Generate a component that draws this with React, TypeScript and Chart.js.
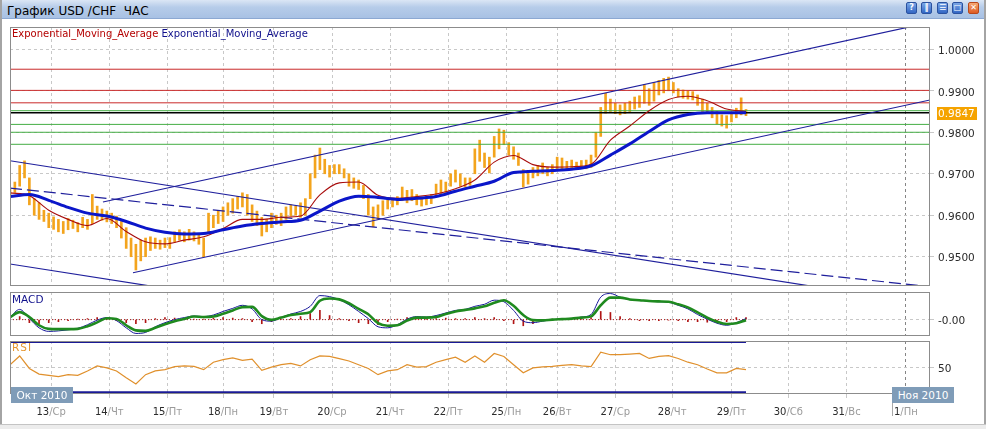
import { useEffect, useRef } from 'react';
import { Chart, registerables } from 'chart.js';

Chart.register(...registerables);

const FONT = '"DejaVu Sans", Verdana, sans-serif';

// ---------- time axis (hour units, one trading day ≈ 24 units) ----------
const X_MAX = 380;
const dayTicks = [17, 41, 65, 88, 109, 133, 157, 181, 205, 226, 250, 273.5, 298, 321.5, 345.5, 370];
const dayLabels = ['13/Ср', '14/Чт', '15/Пт', '18/Пн', '19/Вт', '20/Ср', '21/Чт', '22/Пт', '25/Пн', '26/Вт', '27/Ср', '28/Чт', '29/Пт', '30/Сб', '31/Вс', '1/Пн'];
const monthTick = 370;
const CANDLE_STEP = 2;
const EMA_STEP = 8;
const OSC_STEP = 4;

// ---------- price pane ----------
const priceMin = 0.94294;
const priceMax = 1.00538;
const priceTicks = [0.95, 0.96, 0.97, 0.98, 0.99, 1.0];
const PIP = 10000;

// candle ranges in pips (every 2 hours)
const candleLow = [
  9648, 9655, 9670, 9690, 9625, 9600, 9590, 9585, 9570, 9566,
  9560, 9556, 9565, 9568, 9560, 9570, 9566, 9580, 9590, 9588,
  9584, 9580, 9570, 9545, 9520, 9500, 9468, 9490, 9500, 9515,
  9520, 9518, 9522, 9520, 9535, 9540, 9536, 9540, 9538, 9530,
  9500, 9560, 9570, 9580, 9585, 9600, 9605, 9615, 9620, 9600,
  9585, 9575, 9550, 9560, 9570, 9578, 9575, 9590, 9598, 9600,
  9595, 9600, 9640, 9690, 9710, 9700, 9692, 9700, 9700, 9690,
  9670, 9665, 9662, 9640, 9600, 9572, 9590, 9600, 9615, 9620,
  9625, 9635, 9630, 9635, 9625, 9622, 9625, 9628, 9645, 9650,
  9655, 9670, 9680, 9670, 9668, 9672, 9700, 9730, 9715, 9702,
  9740, 9760, 9770, 9745, 9735, 9720, 9668, 9675, 9690, 9695,
  9700, 9695, 9700, 9710, 9712, 9708, 9712, 9710, 9714, 9712,
  9715, 9740, 9790, 9846, 9850, 9845, 9842, 9845, 9850, 9856,
  9860, 9870, 9865, 9875, 9890, 9895, 9900, 9895, 9885, 9882,
  9880, 9878, 9865, 9850, 9846, 9835, 9820, 9815, 9810, 9825,
  9835, 9842, 9840,
];
const candleHigh = [
  9662, 9680, 9720, 9731, 9690, 9640, 9630, 9612, 9605, 9596,
  9590, 9585, 9592, 9588, 9582, 9595, 9590, 9650, 9622, 9615,
  9610, 9605, 9598, 9585, 9570, 9545, 9530, 9540, 9545, 9548,
  9545, 9540, 9545, 9546, 9560, 9565, 9560, 9566, 9560, 9556,
  9545, 9605, 9600, 9610, 9620, 9630, 9640, 9645, 9654, 9650,
  9625, 9610, 9595, 9590, 9605, 9600, 9605, 9620, 9625, 9622,
  9630, 9640, 9700, 9745, 9762, 9735, 9720, 9722, 9722, 9712,
  9700, 9690, 9685, 9672, 9650, 9620, 9625, 9635, 9637, 9636,
  9645, 9668, 9660, 9662, 9650, 9644, 9645, 9650, 9675, 9685,
  9680, 9700, 9709, 9700, 9690, 9690, 9760, 9781, 9750, 9740,
  9790, 9808, 9805, 9775, 9765, 9750, 9710, 9705, 9715, 9720,
  9726, 9716, 9722, 9740, 9738, 9730, 9733, 9728, 9732, 9733,
  9745, 9800, 9860, 9894, 9880, 9870, 9866, 9870, 9875, 9885,
  9888, 9915, 9905, 9920, 9925, 9930, 9933, 9920, 9905, 9902,
  9900, 9898, 9890, 9880, 9870, 9860, 9850, 9842, 9840, 9848,
  9858, 9883, 9855,
];

// moving averages in pips (every 8 hours)
const emaFast = [
  9654, 9647, 9612, 9590, 9575, 9592, 9561, 9536, 9531, 9540,
  9548, 9568, 9590, 9590, 9595, 9598, 9649, 9678, 9680, 9648,
  9641, 9645, 9651, 9664, 9685, 9728, 9744, 9722, 9716, 9717,
  9723, 9781, 9815, 9852, 9879, 9887, 9876, 9856, 9850,
];
const emaSlow = [
  9645, 9650, 9636, 9619, 9605, 9598, 9585, 9569, 9559, 9555,
  9556, 9565, 9574, 9580, 9584, 9588, 9610, 9634, 9646, 9643,
  9638, 9641, 9645, 9658, 9670, 9682, 9703, 9706, 9708, 9711,
  9719, 9745, 9772, 9802, 9830, 9843, 9847, 9847, 9847,
];

const lastPrice = 0.9847;
const resistanceLevels = [0.9952, 0.9901, 0.9871];
const supportLevels = [0.9852, 0.9819, 0.98, 0.9771];

// trend lines (x in hour units, y in price)
const channelUpperX = [38.4, 380];
const channelUpperY = [0.96319, 1.00647];
const channelLowerX = [50.8, 380];
const channelLowerY = [0.94614, 0.98778];
const declineUpperX = [0, 380];
const declineUpperY = [0.97314, 0.93843];
const declineMidX = [0, 380];
const declineMidY = [0.96656, 0.94277];
const declineLowerX = [0, 62];
const declineLowerY = [0.94824, 0.94258];

// ---------- MACD pane (units of 0.0001, every 4 hours) ----------
const macdMin = -16;
const macdMax = 27;
const macdLine = [
  2.5, 10, 1, -8, -11.5, -11, -10, -8.5, -5, -0.5,
  2, -1, -8, -13.5, -12.5, -7, -3, 0, 2, 3.5,
  3, 4.5, 8, 11, 14, 10.5, 0, -1.5, 2, 5.5,
  8, 13, 23.5, 22.5, 19.5, 14.5, 8, 1, -7, -8,
  -5, 0.5, 3, 2.5, 4, 6.5, 9, 10, 13, 15,
  19, 17.5, 9, -1.5, -3, -1.5, 0, 0.5, 1, 2.5,
  5, 22, 25.5, 22, 19.5, 19, 18, 17.5, 17, 14,
  10.5, 5, 0.5, -3.5, -5.5, -3, 1,
];
const macdSignal = [
  2.3, 7.3, 2.6, -5.5, -9, -9.3, -9.3, -9, -6.5, -2.7,
  1.3, 0.7, -5.5, -10.5, -11, -8, -4.5, -1.5, 0.7, 3,
  2.5, 3, 5.7, 9, 12.2, 12.5, 3.5, -0.2, 2, 4.5,
  5.8, 7.3, 18.5, 20.7, 19.8, 16, 10.5, 5.2, -3.5, -6,
  -5.5, -1, 2, 2, 2.5, 5.5, 8, 9.5, 11, 13,
  16.5, 19, 13.5, 4.5, -0.5, -0.7, 0, 0.5, 1, 2,
  3.2, 14, 21.5, 21.5, 19.7, 19, 18.2, 17.8, 17.4, 15,
  12, 7, 2, -2, -4.2, -3.5, -0.5,
];
const macdHist = [
  2, 3, -3, -4, -3, -2, -1, 0.5, 1, 2,
  1, -1, -3, -4, -3, 1, 2, 1.5, 1, 0.5,
  0.5, 1.5, 2, 1.5, 1, -2, -4, -2, 0.5, 1,
  3, 6, 9, 4, 1, -1, -3, -4, -5, -2,
  0.5, 2, 2, 1, 1, 1.5, 1, 1, 2, 1,
  2, -1, -4, -6, -4, -1, 0.5, 0.5, 0.5, 1,
  2, 8, 7, 3, 1, -1, -1, -1, -0.5, -1,
  -2, -2, -2.5, -3, -2, 2, 2,
];

// ---------- RSI pane (every 4 hours) ----------
const rsiMin = 28.5;
const rsiMax = 71;
const rsiValues = [
  52, 59, 49, 44.5, 43.5, 42.5, 44, 43.5, 47, 51,
  49.5, 47, 41.5, 36.5, 44, 47, 48, 50.5, 51, 50.6,
  48, 54, 56, 57.5, 55.5, 56.5, 47.5, 50, 52, 53,
  51, 56, 59, 58.6, 56.8, 55, 52, 49, 44, 47,
  48, 52, 50, 50.5, 54, 56, 58, 54, 59, 54,
  61, 58.6, 52, 45.5, 49.4, 50.2, 50.6, 51.5, 52, 51,
  50.5, 62, 60, 60, 60.5, 61, 57, 58.6, 59.2, 57,
  54, 52, 48.6, 45.5, 45.5, 49, 48,
];
const rsiLevels = [70, 30];

// ---------- helpers ----------
const pts = (vals: number[], step: number, div = 1) => vals.map((v, i) => ({ x: i * step, y: v / div }));
const seg = (xs: number[], ys: number[]) => xs.map((x, i) => ({ x, y: ys[i] }));
const flat = (y: number, x0: number, x1: number) => [{ x: x0, y }, { x: x1, y }];

const lineDs = (data: any[], color: string, width: number, order: number, extra: any = {}) => ({
  type: 'line' as const,
  data,
  borderColor: color,
  borderWidth: width,
  pointRadius: 0,
  tension: 0,
  fill: false,
  clip: 0,
  order,
  ...extra,
});

function xAxis(height: number, drawTicks: boolean) {
  return {
    type: 'linear' as const,
    min: 0,
    max: X_MAX,
    offset: false,
    afterBuildTicks: (s: any) => {
      s.ticks = dayTicks.map((v) => ({ value: v }));
    },
    afterFit: (s: any) => {
      s.height = height;
      s.paddingLeft = 0;
      s.paddingRight = 0;
    },
    ticks: { display: false },
    grid: {
      offset: false,
      color: (c: any) => (c.tick && c.tick.value === monthTick ? '#858585' : '#c8c8c8'),
      lineWidth: 1,
      drawTicks,
      tickLength: 4,
    },
    border: { display: false, dash: [3, 3] },
  };
}

function yAxis(min: number, max: number, ticks: number[], fmt: (v: number) => string) {
  return {
    type: 'linear' as const,
    position: 'right' as const,
    min,
    max,
    afterBuildTicks: (s: any) => {
      s.ticks = ticks.map((v) => ({ value: v }));
    },
    afterFit: (s: any) => {
      s.width = 56;
      s.paddingTop = 0;
      s.paddingBottom = 0;
    },
    ticks: {
      callback: (v: any) => fmt(Number(v)),
      color: '#2a2a2a',
      font: { family: FONT, size: 10.5 },
      padding: 4,
      labelOffset: 2,
    },
    grid: { color: '#c8c8c8', lineWidth: 1, drawTicks: true, tickLength: 4 },
    border: { display: false, dash: [3, 3] },
  };
}

const paneFrame = {
  id: 'paneFrame',
  afterDraw(chart: any) {
    const { ctx, chartArea: a } = chart;
    ctx.save();
    ctx.strokeStyle = '#8c8c8c';
    ctx.lineWidth = 1;
    ctx.setLineDash([]);
    ctx.strokeRect(Math.floor(a.left) + 0.5, Math.floor(a.top) + 0.5, Math.round(a.right - a.left) - 1, Math.round(a.bottom - a.top) - 1);
    ctx.restore();
  },
};

const lastPriceBadge = {
  id: 'lastPriceBadge',
  afterDraw(chart: any) {
    const { ctx, chartArea } = chart;
    const y = Math.round(chart.scales.y.getPixelForValue(lastPrice));
    const x = chartArea.right + 7;
    ctx.save();
    ctx.fillStyle = '#f5a300';
    ctx.fillRect(x, y - 6, 40, 13);
    ctx.fillStyle = '#ffffff';
    ctx.font = `10.5px ${FONT}`;
    ctx.textBaseline = 'middle';
    ctx.textAlign = 'left';
    ctx.fillText(lastPrice.toFixed(4), x + 1, y + 1);
    ctx.restore();
  },
};

const dayLabelPlugin = {
  id: 'dayLabelPlugin',
  afterDraw(chart: any) {
    const { ctx, chartArea } = chart;
    const xs = chart.scales.x;
    ctx.save();
    ctx.font = `10px ${FONT}`;
    ctx.textBaseline = 'alphabetic';
    ctx.textAlign = 'left';
    const y = chartArea.bottom + 21;
    dayTicks.forEach((v, i) => {
      const [d, w] = dayLabels[i].split('/');
      const rest = '/' + w;
      const w1 = ctx.measureText(d).width;
      const w2 = ctx.measureText(rest).width;
      const sx = xs.getPixelForValue(v) - (w1 + w2) / 2;
      ctx.fillStyle = '#2b2b2b';
      ctx.fillText(d, sx, y);
      ctx.fillStyle = '#9a9a9a';
      ctx.fillText(rest, sx + w1, y);
    });
    ctx.restore();
  },
};

const baseOptions = {
  responsive: false,
  animation: false as const,
  events: [] as any[],
  layout: { padding: 0 },
  plugins: { legend: { display: false }, tooltip: { enabled: false } },
};

export default function App() {
  const mainRef = useRef<HTMLCanvasElement>(null);
  const macdRef = useRef<HTMLCanvasElement>(null);
  const rsiRef = useRef<HTMLCanvasElement>(null);

  useEffect(() => {
    Chart.defaults.font.family = FONT;
    const oscLastX = (rsiValues.length - 1) * OSC_STEP;

    const candleData = candleLow.map((lo, i) => ({ x: i * CANDLE_STEP, y: [lo / PIP, candleHigh[i] / PIP] }));
    const navy = '#1f1f9c';

    const main = new Chart(mainRef.current as HTMLCanvasElement, {
      type: 'line',
      data: {
        datasets: [
          lineDs(pts(emaSlow, EMA_STEP, PIP), '#0b16c9', 3, 1, { cubicInterpolationMode: 'monotone' }),
          lineDs(pts(emaFast, EMA_STEP, PIP), '#a80c0c', 1.1, 2, { cubicInterpolationMode: 'monotone' }),
          lineDs(seg(channelUpperX, channelUpperY), navy, 1.2, 3),
          lineDs(seg(channelLowerX, channelLowerY), navy, 1.2, 3),
          lineDs(seg(declineUpperX, declineUpperY), navy, 1.2, 3),
          lineDs(seg(declineMidX, declineMidY), navy, 1.2, 3, { borderDash: [12, 5] }),
          lineDs(seg(declineLowerX, declineLowerY), navy, 1.2, 3),
          lineDs(flat(lastPrice, 0, X_MAX), '#000000', 1.6, 4),
          ...resistanceLevels.map((v) => lineDs(flat(v, 0, X_MAX), '#c92a2a', 1, 5)),
          ...supportLevels.map((v) => lineDs(flat(v, 0, X_MAX), '#44ad44', 1, 5)),
          {
            type: 'bar' as const,
            data: candleData as any,
            backgroundColor: '#f3a41d',
            borderWidth: 0,
            barThickness: 2,
            grouped: false,
            order: 9,
          },
        ] as any,
      },
      options: {
        ...baseOptions,
        scales: {
          x: xAxis(0, false) as any,
          y: yAxis(priceMin, priceMax, priceTicks, (v) => v.toFixed(4)) as any,
        },
      } as any,
      plugins: [paneFrame, lastPriceBadge],
    });

    const macd = new Chart(macdRef.current as HTMLCanvasElement, {
      type: 'line',
      data: {
        datasets: [
          lineDs(pts(macdSignal, OSC_STEP), '#1f8a1f', 2.6, 1, { cubicInterpolationMode: 'monotone' }),
          lineDs(pts(macdLine, OSC_STEP), '#16169a', 1, 2, { cubicInterpolationMode: 'monotone' }),
          lineDs(flat(0, 0, oscLastX), '#b01414', 1, 4, { borderDash: [1, 2] }),
          {
            type: 'bar' as const,
            data: pts(macdHist, OSC_STEP) as any,
            backgroundColor: '#b01414',
            borderWidth: 0,
            barThickness: 1,
            grouped: false,
            order: 3,
          },
        ] as any,
      },
      options: {
        ...baseOptions,
        scales: {
          x: xAxis(0, false) as any,
          y: yAxis(macdMin, macdMax, [0], () => '-0.00') as any,
        },
      } as any,
      plugins: [paneFrame],
    });

    const rsi = new Chart(rsiRef.current as HTMLCanvasElement, {
      type: 'line',
      data: {
        datasets: [
          lineDs(pts(rsiValues, OSC_STEP), '#e0902c', 1.2, 1),
          ...rsiLevels.map((v) => lineDs(flat(v, 0, oscLastX), '#1a1a96', 1.6, 2)),
        ] as any,
      },
      options: {
        ...baseOptions,
        scales: {
          x: xAxis(29, true) as any,
          y: yAxis(rsiMin, rsiMax, [50], (v) => String(Math.round(v))) as any,
        },
      } as any,
      plugins: [paneFrame, dayLabelPlugin],
    });

    return () => {
      main.destroy();
      macd.destroy();
      rsi.destroy();
    };
  }, []);

  const btn = (x: number, glyph: string, red = false) => (
    <div
      key={x}
      style={{
        position: 'absolute',
        left: x,
        top: 2,
        width: 11,
        height: 12,
        boxSizing: 'border-box',
        borderRadius: 2,
        border: red ? '1px solid #b8481c' : '1px solid #2a52a0',
        background: red ? 'linear-gradient(#f6a874, #de5a22)' : 'linear-gradient(#7aa6e6, #3266c4)',
        color: '#fff',
        fontSize: 8,
        lineHeight: '10px',
        textAlign: 'center',
        fontWeight: 'bold',
      }}
    >
      {glyph}
    </div>
  );

  const monthBox = (x: number, text: string) => (
    <div
      style={{
        position: 'absolute',
        left: x,
        top: 387,
        width: 62,
        height: 16,
        background: '#7f9cb8',
        color: '#fff',
        fontSize: 10.5,
        lineHeight: '16px',
        textAlign: 'center',
      }}
    >
      {text}
    </div>
  );

  return (
    <div
      style={{
        position: 'fixed',
        left: 0,
        top: 0,
        width: 986,
        height: 429,
        background: '#ffffff',
        overflow: 'hidden',
        fontFamily: FONT,
      }}
    >
      <div
        style={{
          position: 'absolute',
          left: 0,
          top: 0,
          width: 986,
          height: 18,
          background: 'linear-gradient(#dbe6f5, #b6cce9 40%, #a8c1e4)',
          borderBottom: '1px solid #8ca8d2',
        }}
      />
      <div style={{ position: 'absolute', left: 7, top: 4, fontSize: 12, lineHeight: '14px', color: '#000', whiteSpace: 'pre' }}>
        График USD /CHF  ЧАС
      </div>
      {btn(906, '?')}
      {btn(921, '‖')}
      {btn(937, '☰')}
      {btn(952, '□')}
      {btn(968, '✕', true)}

      <canvas ref={mainRef} width={976} height={259} style={{ position: 'absolute', left: 10, top: 27, width: 976, height: 259 }} />
      <canvas ref={macdRef} width={976} height={44} style={{ position: 'absolute', left: 10, top: 292, width: 976, height: 44 }} />
      <canvas ref={rsiRef} width={976} height={82} style={{ position: 'absolute', left: 10, top: 341, width: 976, height: 82 }} />

      <div style={{ position: 'absolute', left: 12, top: 28, fontSize: 10, lineHeight: '12px', whiteSpace: 'pre' }}>
        <span style={{ color: '#b40000' }}>Exponential_Moving_Average</span> <span style={{ color: '#10108c' }}>Exponential_Moving_Average</span>
      </div>
      <div style={{ position: 'absolute', left: 12, top: 293, fontSize: 10.5, lineHeight: '12px', color: '#10108c' }}>MACD</div>
      <div style={{ position: 'absolute', left: 12, top: 341, fontSize: 10.5, lineHeight: '12px', color: '#e6962e', letterSpacing: 1 }}>RSI</div>

      {monthBox(11, 'Окт 2010')}
      {monthBox(892, 'Ноя 2010')}
      <div style={{ position: 'absolute', left: 892, top: 403, width: 1, height: 13, background: '#a8a8a8' }} />

      <div style={{ position: 'absolute', left: 0, top: 0, width: 2, height: 429, background: '#a4a4a4' }} />
      <div style={{ position: 'absolute', left: 984, top: 0, width: 2, height: 429, background: '#a4a4a4' }} />
      <div style={{ position: 'absolute', left: 0, top: 424, width: 986, height: 5, background: '#ececec', borderTop: '1px solid #c4c4c4' }} />
    </div>
  );
}
